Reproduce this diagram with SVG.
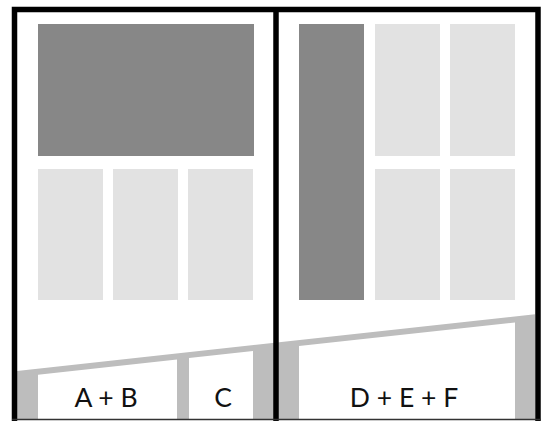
<svg xmlns="http://www.w3.org/2000/svg" width="545" height="421" viewBox="0 0 545 421">
<style>
.dark{fill:#878787}
.light{fill:#e2e2e2}
.band{fill:#bdbdbd}
.box{fill:#ffffff}
.lbl{font-family:"Lato","Open Sans","Liberation Sans",sans-serif;font-size:26.5px;fill:#111;text-anchor:middle}
.frame{fill:none;stroke:#000;stroke-width:5.5}
</style>
<rect x="0" y="0" width="545" height="421" fill="#ffffff"/>
<g id="left-panel">
<rect class="dark" x="38" y="24" width="216" height="132"/>
<rect class="light" x="38" y="169" width="65" height="131"/>
<rect class="light" x="113" y="169" width="65" height="131"/>
<rect class="light" x="188" y="169" width="65" height="131"/>
</g>
<g id="right-panel">
<rect class="dark" x="299" y="24" width="65" height="276"/>
<rect class="light" x="375" y="24" width="65" height="132"/>
<rect class="light" x="450" y="24" width="65" height="132"/>
<rect class="light" x="375" y="169" width="65" height="131"/>
<rect class="light" x="450" y="169" width="65" height="131"/>
</g>
<g id="bottom-band">
<polygon class="band" points="17,371 535,314.2 535,419 17,419"/>
</g>
<g id="box-ab">
<polygon class="box" points="38,374.7 177,359.5 177,419 38,419"/>
<text class="lbl" x="106" y="407">A + B</text>
</g>
<g id="box-c">
<polygon class="box" points="189,358.1 253,351.1 253,419 189,419"/>
<text class="lbl" x="223" y="407">C</text>
</g>
<g id="box-def">
<polygon class="box" points="299,346.1 515,322.4 515,419 299,419"/>
<text class="lbl" x="404" y="407">D + E + F</text>
</g>
<g id="frame">
<path class="frame" d="M14.5,421 V9.5 H538 V421"/>
<line x1="276" y1="9.5" x2="276" y2="421" stroke="#000" stroke-width="5.5"/>
<line x1="12" y1="419.5" x2="541" y2="419.5" stroke="#333" stroke-width="1.5"/>
</g>
</svg>
